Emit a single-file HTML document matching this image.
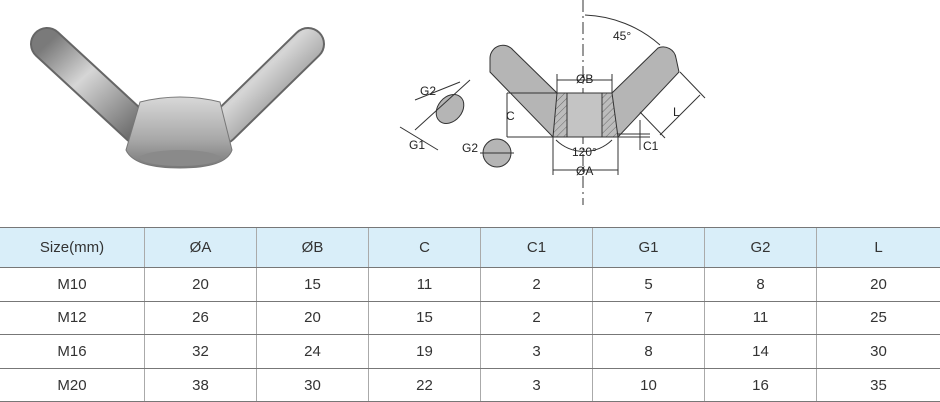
<!DOCTYPE html>
<html><head><style>
body{margin:0;background:#fff;width:940px;height:402px;overflow:hidden;font-family:"Liberation Sans",sans-serif;position:relative}
svg{position:absolute;left:0;top:0}
table{position:absolute;left:0;top:227px;border-collapse:collapse;width:940px;table-layout:fixed}
td{height:32.6px;text-align:center;font-size:15px;color:#333;border-bottom:1px solid #777;border-left:1px solid #aaa;padding:0}
td:first-child{border-left:none}
tr.h td{background:#d9eef9;height:39px;border-top:1px solid #777}
</style></head><body>
<svg width="940" height="225" viewBox="0 0 940 225">
<defs>
<linearGradient id="m" x1="0" y1="0" x2="1" y2="1"><stop offset="0" stop-color="#7a7a7a"/><stop offset=".4" stop-color="#d6d6d6"/><stop offset="1" stop-color="#6e6e6e"/></linearGradient>
<linearGradient id="b" x1="0" y1="0" x2="0" y2="1"><stop offset="0" stop-color="#d8d8d8"/><stop offset=".6" stop-color="#a8a8a8"/><stop offset="1" stop-color="#787878"/></linearGradient>
<pattern id="h" width="5" height="5" patternUnits="userSpaceOnUse" patternTransform="rotate(45)"><rect width="5" height="5" fill="#bcbcbc"/><line x1="0" y1="0" x2="0" y2="5" stroke="#555" stroke-width="0.8"/></pattern>
</defs>
<line x1="47" y1="44" x2="138" y2="128" stroke="#666" stroke-width="34" stroke-linecap="round"/>
<line x1="47" y1="44" x2="138" y2="128" stroke="url(#m)" stroke-width="30" stroke-linecap="round"/>
<line x1="308" y1="44" x2="222" y2="128" stroke="#666" stroke-width="34" stroke-linecap="round"/>
<line x1="308" y1="44" x2="222" y2="128" stroke="url(#m)" stroke-width="30" stroke-linecap="round"/>
<path d="M140 102 Q180 92 220 102 L232 150 Q226 168 180 168 Q134 168 126 150 Z" fill="url(#b)" stroke="#777"/>
<ellipse cx="180" cy="158" rx="40" ry="8" fill="#8a8a8a"/>
<g stroke="#333" stroke-width="1" fill="none">
<line x1="583" y1="0" x2="583" y2="205" stroke-dasharray="12,4,2,4"/>
<path d="M490 58 A13 13 0 0 1 513 50 L557 93 L557 137 L553 137 L490 72 Z" fill="#b5b5b5"/>
<path d="M676 58 A13 13 0 0 0 658 48 L612 93 L612 137 L618 137 L679 72 Z" fill="#b5b5b5"/>
<rect x="557" y="93" width="55" height="44" fill="#b5b5b5"/>
<path d="M557 93 L567 93 L567 137 L553 137 Z" fill="url(#h)"/>
<path d="M602 93 L612 93 L618 137 L602 137 Z" fill="url(#h)"/>
<rect x="567" y="93" width="35" height="44" fill="#c4c4c4"/>
<ellipse cx="450" cy="109" rx="12" ry="16" transform="rotate(40 450 109)" fill="#b5b5b5"/>
<circle cx="497" cy="153" r="14" fill="#b5b5b5"/>
<line x1="480" y1="153" x2="514" y2="153"/>
<line x1="557" y1="80" x2="612" y2="80"/><line x1="557" y1="74" x2="557" y2="93"/><line x1="612" y1="74" x2="612" y2="93"/>
<line x1="507" y1="93" x2="557" y2="93"/><line x1="507" y1="137" x2="650" y2="137"/><line x1="507" y1="93" x2="507" y2="137"/>
<line x1="553" y1="137" x2="553" y2="175"/><line x1="618" y1="137" x2="618" y2="175"/><line x1="553" y1="170" x2="618" y2="170"/>
<line x1="618" y1="134" x2="650" y2="134"/><line x1="640" y1="120" x2="640" y2="150"/>
<path d="M556 140 A40 40 0 0 0 612 140"/>
<path d="M585 15 A120 120 0 0 1 660 45"/>
<line x1="680" y1="72" x2="705" y2="98"/><line x1="640" y1="112" x2="665" y2="138"/><line x1="700" y1="95" x2="660" y2="135"/>
<line x1="415" y1="100" x2="460" y2="82"/><line x1="400" y1="127" x2="438" y2="150"/><line x1="415" y1="130" x2="470" y2="80"/>
</g>
<g font-size="12" fill="#222">
<text x="613" y="40">45°</text><text x="576" y="83">ØB</text><text x="506" y="120">C</text>
<text x="572" y="156">120°</text><text x="576" y="175">ØA</text><text x="643" y="150">C1</text>
<text x="673" y="116">L</text><text x="420" y="95">G2</text><text x="409" y="149">G1</text><text x="462" y="152">G2</text>
</g>
</svg>
<table>
<tr class="h"><td style="width:144px">Size(mm)</td><td style="width:111px">ØA</td><td style="width:111px">ØB</td><td style="width:111px">C</td><td style="width:111px">C1</td><td style="width:111px">G1</td><td style="width:111px">G2</td><td>L</td></tr>
<tr><td>M10</td><td>20</td><td>15</td><td>11</td><td>2</td><td>5</td><td>8</td><td>20</td></tr>
<tr><td>M12</td><td>26</td><td>20</td><td>15</td><td>2</td><td>7</td><td>11</td><td>25</td></tr>
<tr><td>M16</td><td>32</td><td>24</td><td>19</td><td>3</td><td>8</td><td>14</td><td>30</td></tr>
<tr><td>M20</td><td>38</td><td>30</td><td>22</td><td>3</td><td>10</td><td>16</td><td>35</td></tr>
</table>
</body></html>
